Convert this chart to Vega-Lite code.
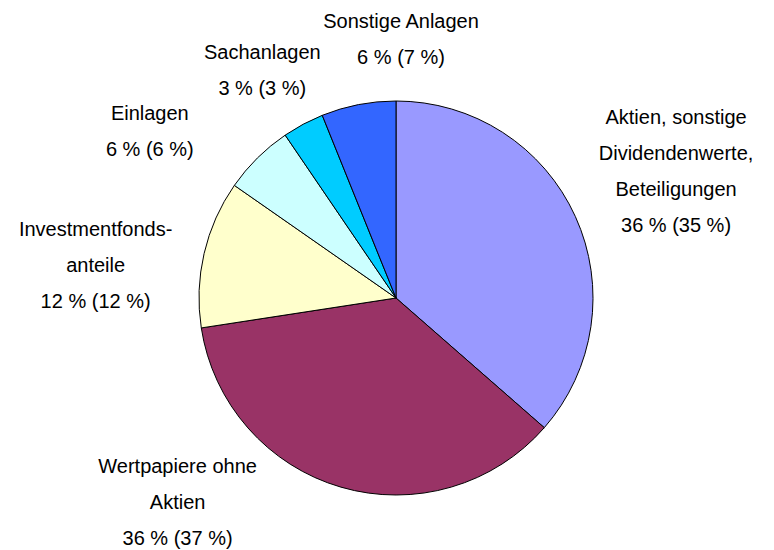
{
  "$schema": "https://vega.github.io/schema/vega-lite/v6.json",
  "width": 756,
  "height": 504,
  "autosize": {"type": "none"},
  "padding": {"left": 18, "top": 46, "right": 0, "bottom": 0},
  "background": "white",
  "config": {"view": {"stroke": null}},
  "data": {
    "values": [
      {"cat": "Aktien", "order": 1, "value": 36.4, "label": "Aktien, sonstige\nDividendenwerte,\nBeteiligungen\n36 % (35 %)"},
      {"cat": "Wertpapiere", "order": 2, "value": 36.1, "label": "Wertpapiere ohne\nAktien\n36 % (37 %)"},
      {"cat": "Investment", "order": 3, "value": 12.1, "label": "Investmentfonds-\nanteile\n12 % (12 %)"},
      {"cat": "Einlagen", "order": 4, "value": 5.8, "label": "Einlagen\n6 % (6 %)"},
      {"cat": "Sachanlagen", "order": 5, "value": 3.4, "label": "Sachanlagen\n3 % (3 %)"},
      {"cat": "Sonstige", "order": 6, "value": 6.1, "label": "Sonstige Anlagen\n6 % (7 %)"}
    ]
  },
  "encoding": {
    "theta": {"field": "value", "type": "quantitative", "stack": true},
    "order": {"field": "order", "type": "quantitative"},
    "detail": {"field": "cat", "type": "nominal"}
  },
  "layer": [
    {
      "mark": {"type": "arc", "radius": 197, "stroke": "black", "strokeWidth": 1},
      "encoding": {
        "color": {
          "field": "cat",
          "type": "nominal",
          "legend": null,
          "scale": {
            "domain": ["Aktien", "Wertpapiere", "Investment", "Einlagen", "Sachanlagen", "Sonstige"],
            "range": ["#9999FF", "#993366", "#FFFFCC", "#CCFFFF", "#00CCFF", "#3366FF"]
          }
        }
      }
    },
    {
      "mark": {"type": "text", "radius": 333, "thetaOffset": -0.1456, "font": "Liberation Sans", "fontSize": 20, "lineHeight": 36, "lineBreak": "\n", "align": "center", "baseline": "middle", "color": "black"},
      "encoding": {"text": {"condition": {"test": "datum.cat === 'Aktien'", "field": "label"}, "value": ""}}
    },
    {
      "mark": {"type": "text", "radius": 276, "thetaOffset": 0.63, "font": "Liberation Sans", "fontSize": 20, "lineHeight": 36, "lineBreak": "\n", "align": "center", "baseline": "middle", "color": "black"},
      "encoding": {"text": {"condition": {"test": "datum.cat === 'Wertpapiere'", "field": "label"}, "value": ""}}
    },
    {
      "mark": {"type": "text", "radius": 308, "thetaOffset": -0.0047, "font": "Liberation Sans", "fontSize": 20, "lineHeight": 36, "lineBreak": "\n", "align": "center", "baseline": "middle", "color": "black"},
      "encoding": {"text": {"condition": {"test": "datum.cat === 'Investment'", "field": "label"}, "value": ""}}
    },
    {
      "mark": {"type": "text", "radius": 307.6, "thetaOffset": -0.148, "font": "Liberation Sans", "fontSize": 20, "lineHeight": 36, "lineBreak": "\n", "align": "center", "baseline": "middle", "color": "black"},
      "encoding": {"text": {"condition": {"test": "datum.cat === 'Einlagen'", "field": "label"}, "value": ""}}
    },
    {
      "mark": {"type": "text", "radius": 279, "thetaOffset": -0.009, "font": "Liberation Sans", "fontSize": 20, "lineHeight": 36, "lineBreak": "\n", "align": "center", "baseline": "middle", "color": "black"},
      "encoding": {"text": {"condition": {"test": "datum.cat === 'Sachanlagen'", "field": "label"}, "value": ""}}
    },
    {
      "mark": {"type": "text", "radius": 276, "thetaOffset": 0.21, "font": "Liberation Sans", "fontSize": 20, "lineHeight": 36, "lineBreak": "\n", "align": "center", "baseline": "middle", "color": "black"},
      "encoding": {"text": {"condition": {"test": "datum.cat === 'Sonstige'", "field": "label"}, "value": ""}}
    }
  ]
}
